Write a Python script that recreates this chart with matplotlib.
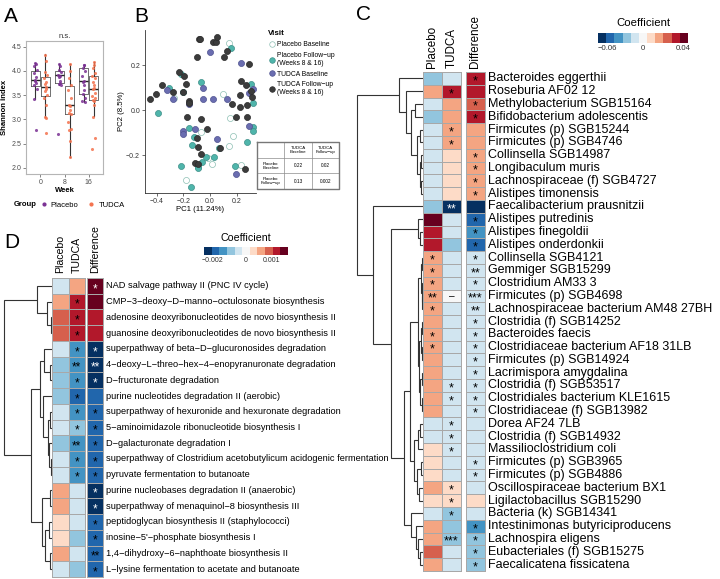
import numpy as np
import matplotlib
matplotlib.use('Agg')
import matplotlib.pyplot as plt
from matplotlib.colors import ListedColormap, BoundaryNorm
from matplotlib.lines import Line2D

plt.rcParams['font.family'] = ['Liberation Sans', 'DejaVu Sans']

# ---------------- panel A : Shannon index ----------------
weeks = ['0', '8', '16']
shannon_placebo = [
    [4.16, 4.15, 4.10, 4.02, 3.95, 3.88, 3.82, 3.80, 3.75, 3.70, 3.62, 3.42, 2.77],
    [4.15, 4.10, 4.02, 3.97, 3.92, 3.90, 3.88, 3.80, 3.75, 3.72, 3.71, 2.69],
    [4.13, 4.12, 4.05, 4.00, 3.90, 3.80, 3.78, 3.70, 3.60, 3.52, 3.45, 3.38, 3.36],
]
shannon_tudca = [
    [4.33, 4.20, 3.97, 3.92, 3.85, 3.78, 3.72, 3.67, 3.62, 3.58, 3.50, 3.45, 3.30, 3.05, 3.03, 2.72],
    [4.14, 4.00, 3.85, 3.70, 3.60, 3.45, 3.30, 3.28, 3.20, 3.12, 3.10, 2.95, 2.80, 2.78, 2.55, 2.22],
    [4.18, 4.12, 4.05, 3.95, 3.90, 3.85, 3.78, 3.70, 3.65, 3.62, 3.55, 3.48, 3.45, 3.40, 3.38, 3.30, 3.05, 2.61, 2.39],
]
# q1, median, q3, lower whisker, upper whisker
box_placebo = [(3.69, 3.81, 3.99, 3.42, 4.17), (3.74, 3.91, 4.00, 3.71, 4.15), (3.53, 3.79, 4.06, 3.36, 4.13)]
box_tudca = [(3.49, 3.67, 3.87, 3.04, 4.34), (3.10, 3.29, 3.69, 2.22, 4.15), (3.40, 3.62, 3.90, 3.06, 4.19)]

# ---------------- panel B : PCoA ----------------
pb_x = [0.14, 0.095, 0.15, -0.065, 0.17, 0.14, -0.015, 0.015, 0.23, -0.18, -0.27]
pb_y = [0.296, 0.071, -0.037, -0.096, -0.116, -0.159, -0.212, -0.241, -0.244, -0.311, 0.055]
pf_x = [0.16, -0.22, -0.305, -0.067, -0.2, 0.305, 0.32, -0.39, -0.16, 0.32, 0.325, -0.12,
        -0.138, -0.063, -0.03, 0.03, -0.09, -0.088, -0.22, 0.275, 0.19, -0.145, 0.07]
pf_y = [0.277, 0.16, 0.1, 0.124, 0.081, 0.114, 0.03, -0.012, -0.08, -0.077, -0.092, -0.119,
        -0.156, -0.233, -0.21, -0.21, -0.252, -0.259, -0.249, -0.141, -0.247, -0.341, -0.17]
tb_x = [0.0, 0.23, -0.055, -0.32, -0.28, -0.055, 0.02, 0.125, 0.29, 0.325, -0.155, -0.2, -0.2,
        -0.11, 0.05, 0.29, 0.195]
tb_y = [0.256, 0.207, 0.1, 0.089, 0.047, 0.05, 0.05, 0.047, 0.077, 0.092, 0.027, -0.092, -0.107,
        -0.086, -0.13, -0.071, -0.286]
tf_x = [-0.085, -0.075, 0.025, 0.045, 0.055, 0.125, -0.095, 0.105, 0.295, -0.23, -0.195, -0.36,
        -0.28, -0.405, -0.45, -0.205, -0.18, -0.16, -0.155, 0.23, 0.27, 0.225, 0.168, 0.225,
        0.275, 0.315, 0.31, -0.175, -0.07, -0.025, 0.195, 0.28, -0.095, 0.075, -0.088, -0.07,
        -0.113, -0.088, 0.26]
tf_y = [0.314, 0.314, 0.304, 0.304, 0.323, 0.264, 0.237, 0.234, 0.204, 0.17, 0.151, 0.111,
        0.081, 0.07, 0.049, 0.081, 0.116, 0.04, 0.033, 0.129, 0.111, 0.067, 0.025, 0.015,
        0.022, 0.059, 0.086, -0.033, -0.039, -0.086, -0.033, -0.033, -0.123, -0.17, -0.163,
        -0.196, -0.237, -0.241, -0.262]
visit_labels = ['Placebo Baseline', 'Placebo Follow\u2212up\n(Weeks 8 & 16)',
                'TUDCA Baseline', 'TUDCA Follow\u2212up\n(Weeks 8 & 16)']
tab_cols = ['TUDCA\nBaseline', 'TUDCA\nFollow\u2212up']
tab_rows = ['Placebo\nBaseline', 'Placebo\nFollow\u2212up']
tab_vals = [['0.22', '0.02'], ['0.13', '0.002']]

# ---------------- panel C : taxa ----------------
c_taxa = ['Bacteroides eggerthii', 'Roseburia AF02 12', 'Methylobacterium SGB15164',
          'Bifidobacterium adolescentis', 'Firmicutes (p) SGB15244', 'Firmicutes (p) SGB4746',
          'Collinsella SGB14987', 'Longibaculum muris', 'Lachnospiraceae (f) SGB4727',
          'Alistipes timonensis', 'Faecalibacterium prausnitzii', 'Alistipes putredinis',
          'Alistipes finegoldii', 'Alistipes onderdonkii', 'Collinsella SGB4121',
          'Gemmiger SGB15299', 'Clostridium AM33 3', 'Firmicutes (p) SGB4698',
          'Lachnospiraceae bacterium AM48 27BH', 'Clostridia (f) SGB14252', 'Bacteroides faecis',
          'Clostridiaceae bacterium AF18 31LB', 'Firmicutes (p) SGB14924', 'Lacrimispora amygdalina',
          'Clostridia (f) SGB53517', 'Clostridiales bacterium KLE1615', 'Clostridiaceae (f) SGB13982',
          'Dorea AF24 7LB', 'Clostridia (f) SGB14932', 'Massilioclostridium coli',
          'Firmicutes (p) SGB3965', 'Firmicutes (p) SGB4886', 'Oscillospiraceae bacterium BX1',
          'Ligilactobacillus SGB15290', 'Bacteria (k) SGB14341', 'Intestinimonas butyriciproducens',
          'Lachnospira eligens', 'Eubacteriales (f) SGB15275', 'Faecalicatena fissicatena']
c_placebo = [-0.028, 0.016, -0.014, -0.028, -0.014, -0.014, -0.014, -0.014, -0.014, -0.014,
             -0.028, 0.041, 0.032, 0.032] + [0.016] * 13 + \
            [-0.014, -0.014, 0.008, 0.008, 0.008, 0.016, 0.008, -0.014, 0.016, 0.016, 0.025, 0.016]
c_tudca = [-0.014, 0.032, 0.016, 0.016, 0.016, 0.016, 0.008, 0.008, 0.008, 0.008,
           -0.068, -0.014, -0.014, -0.028, -0.014, -0.014, -0.014, 0.0] + [-0.014] * 14 + \
          [0.008, 0.008, -0.028, -0.028, -0.028, -0.014, -0.014]
c_diff = [0.032, 0.032, 0.025, 0.032, 0.016, 0.016, 0.016, 0.016, 0.016, 0.016,
          -0.068, -0.055, -0.042, -0.055] + [-0.014] * 19 + \
         [0.008, -0.014, -0.042, -0.028, -0.028, -0.028]
c_sig_placebo = [''] * 14 + ['*', '*', '*', '**', '*', '', '*', '*'] + [''] * 17
c_sig_tudca = ['', '*', '', '', '*', '*', '', '', '', '', '**'] + [''] * 6 + ['\u2013'] + \
              [''] * 6 + ['*', '*', '', '*', '*', '*', '', '', '*', '*', '*', '', '***', '', '']
c_sig_diff = ['*', '', '*', '*', '', '', '*', '*', '*', '*', '', '*', '*', '*',
              '*', '**', '*', '***', '**', '*', '*', '*', '*', '*', '*', '*', '*',
              '', '', '', '*', '*', '', '', '', '*', '*', '*', '*']
# row dendrogram: [height, left, right]
c_tree = [66,
          [24, 0, [17, 1, [12, [8, 2, 3], [6, [3, 4, 5], [2.5, [1.5, 6, 7], [1.5, 8, 9]]]]]],
          [50, 10,
           [32, [5, 11, [2.5, 12, 13]],
            [19,
             [13,
              [5, [2, [1, 14, 15], [1, 16, [0.5, 17, 18]]],
               [4, [2, [1, 19, 20], [1, 21, 22]], [3, [1, 23, 24], [1, 25, 26]]]],
              [9, [5, [3, 27, 28], 29], [6, [2, 30, 31], [4, 32, 33]]]],
             [12, 34, [7, 35, [5, 36, [3, 37, 38]]]]]]]]

# ---------------- panel D : pathways ----------------
d_paths = ['NAD salvage pathway II (PNC IV cycle)',
           'CMP-3-deoxy-D-manno-octulosonate biosynthesis',
           'adenosine deoxyribonucleotides de novo biosynthesis II',
           'guanosine deoxyribonucleotides de novo biosynthesis II',
           'superpathway of beta-D-glucuronosides degradation',
           '4-deoxy-L-threo-hex-4-enopyranuronate degradation',
           'D-fructuronate degradation',
           'purine nucleotides degradation II (aerobic)',
           'superpathway of hexuronide and hexuronate degradation',
           '5-aminoimidazole ribonucleotide biosynthesis I',
           'D-galacturonate degradation I',
           'superpathway of Clostridium acetobutylicum acidogenic fermentation',
           'pyruvate fermentation to butanoate',
           'purine nucleobases degradation II (anaerobic)',
           'superpathway of menaquinol-8 biosynthesis III',
           'peptidoglycan biosynthesis II (staphylococci)',
           "inosine-5'-phosphate biosynthesis I",
           '1,4-dihydroxy-6-naphthoate biosynthesis II',
           'L-lysine fermentation to acetate and butanoate']
d_placebo = [-0.0005, 0.0006, 0.0009, 0.0009, -0.0005, -0.0009, -0.0009, -0.0009, -0.0005, -0.0005,
             -0.0009, -0.0005, -0.0005, 0.0006, 0.0006, 0.0003, 0.0003, 0.0006, -0.0005]
d_tudca = [0.0006, 0.0012, 0.0012, 0.0012, -0.0014, -0.0014, -0.0014, -0.0019, -0.0014, -0.0009,
           -0.0014, -0.0014, -0.0014, -0.0005, -0.0005, -0.0005, -0.0009, -0.0005, -0.0009]
d_diff = [0.0015, 0.0015, 0.0012, 0.0012, -0.0023, -0.0023, -0.0023, -0.0019, -0.0019, -0.0019,
          -0.0019, -0.0019, -0.0019, -0.0023, -0.0023, -0.0019, -0.0019, -0.0019, -0.0019]
d_sig_placebo = [''] * 19
d_sig_tudca = ['', '*', '*', '*', '*', '**', '*', '*', '*', '*', '**', '*', '*'] + [''] * 6
d_sig_diff = ['*', '', '', '', '*', '**', '*', '', '*', '*', '*', '*', '*',
              '*', '*', '*', '*', '**', '*']
d_tree = [48.5,
          [15, 0, [5.5, 1, [1.5, 2, 3]]],
          [21,
           [12, [8, 4, [2, 5, 6]], [9, 7, [4, [2, 8, 9], [3, 10, [1.5, 11, 12]]]]],
           [10, [2, 13, 14], [7, [3, 15, 16], [2, 17, 18]]]]]

coef_colors = ['#053061', '#2166ac', '#4393c3', '#92c5de', '#d1e5f0', '#f7f7f7',
               '#fddbc7', '#f4a582', '#d6604d', '#b2182b', '#67001f']
coef_cmap = ListedColormap(coef_colors)

W, H = 720, 579
fig = plt.figure(figsize=(7.2, 5.79), dpi=100)


def px(x0, y0, x1, y1):
    return [x0 / W, 1 - y1 / H, (x1 - x0) / W, (y1 - y0) / H]


def bounds(z, sneg, spos):
    k = np.arange(12)
    return np.where(k < z, (k - z) * sneg, (k - z) * spos)


def draw_tree(ax, node):
    if isinstance(node, int):
        return node + 0.5, 0.0
    h, left, right = node
    y1, h1 = draw_tree(ax, left)
    y2, h2 = draw_tree(ax, right)
    ax.plot([h1, h, h, h2], [y1, y1, y2, y2], color='#333333', lw=0.8,
            solid_capstyle='butt', solid_joinstyle='miter')
    return (y1 + y2) / 2, h


def heatmap(rect, cols, sigs, names, gap, norm, headers, head_fs, row_fs, star_fs, star_dy):
    ax = fig.add_axes(rect)
    n = len(names)
    rows = np.arange(n + 1)
    m1 = ax.pcolormesh([0, 1, 2], rows, np.column_stack(cols[:2]), cmap=coef_cmap, norm=norm,
                       edgecolors='#a8a8a8', linewidth=0.7)
    m2 = ax.pcolormesh([2 + gap, 3 + gap], rows, np.asarray(cols[2])[:, None], cmap=coef_cmap,
                       norm=norm, edgecolors='#a8a8a8', linewidth=0.7)
    m1.set_clip_on(False)
    m2.set_clip_on(False)
    xc = [0.5, 1.5, 2.5 + gap]
    for j in range(3):
        for i in range(n):
            s = sigs[j][i]
            if not s:
                continue
            idx = int(norm(cols[j][i]))
            c = 'white' if idx in (0, 10) else 'black'
            if s == '\u2013':
                ax.text(xc[j], i + 0.5, s, ha='center', va='center', fontsize=star_fs * 0.8, color=c)
            else:
                ax.text(xc[j], i + 0.5 + star_dy, s, ha='center', va='center', fontsize=star_fs,
                        color=c)
        ax.text(xc[j], -0.3, headers[j], rotation=90, ha='center', va='bottom', fontsize=head_fs)
    for i, nm in enumerate(names):
        ax.text(3 + gap + 0.17, i + 0.5, nm, ha='left', va='center', fontsize=row_fs)
    ax.set_xlim(0, 3 + gap)
    ax.set_ylim(n, 0)
    ax.axis('off')


def colorbar(rect, z, sneg, spos, ticks, ticklabels, title_fs, tick_fs):
    ax = fig.add_axes(rect)
    ax.imshow(np.arange(11)[None, :], cmap=coef_cmap, aspect='auto', extent=(0, 11, 0, 1))
    for t, lab in zip(ticks, ticklabels):
        p = z + t / (sneg if t < 0 else spos)
        ax.text(p, -0.25, lab, ha='center', va='top', fontsize=tick_fs, color='#333333')
    ax.text(5.5, 1.45, 'Coefficient', ha='center', va='bottom', fontsize=title_fs)
    ax.set_xlim(0, 11)
    ax.set_ylim(0, 1)
    ax.axis('off')


# ================= A =================
axA = fig.add_axes(px(26, 40.6, 103, 173.8))
col_p, col_t = '#7b3294', '#f4734f'
off, bw = 0.21, 0.36
for k in range(3):
    for pts, box, d, col in ((shannon_placebo[k], box_placebo[k], -off, col_p),
                             (shannon_tudca[k], box_tudca[k], off, col_t)):
        q1, med, q3, lo, hi = box
        st = [dict(med=med, q1=q1, q3=q3, whislo=lo, whishi=hi, fliers=[])]
        axA.bxp(st, positions=[k + 1 + d], widths=bw, showcaps=False, showfliers=False,
                boxprops=dict(color='#5a5a5a', lw=0.6),
                medianprops=dict(color='#222222', lw=1.0),
                whiskerprops=dict(color='#333333', lw=0.8))
        n = len(pts)
        jit = 0.05 * np.sin(np.arange(n) * 2.7)
        axA.scatter(k + 1 + d + jit, pts, s=5, color=col, alpha=0.85, lw=0, zorder=3)
axA.set_xlim(0.4, 3.6)
axA.set_ylim(1.875, 4.625)
axA.set_xticks([1, 2, 3])
axA.set_xticklabels(weeks)
axA.set_yticks([2.0, 2.5, 3.0, 3.5, 4.0, 4.5])
axA.set_yticklabels(['2.0', '2.5', '3.0', '3.5', '4.0', '4.5'])
axA.tick_params(labelsize=5, colors='#555555', labelcolor='#4d4d4d', length=2, width=0.5, pad=1.5)
for sp in axA.spines.values():
    sp.set_color('#b5b5b5')
    sp.set_linewidth(0.8)
axA.set_title('n.s.', fontsize=5.5, pad=2, color='#333333')
axA.set_ylabel('Shannon index', fontsize=5.5, fontweight='bold', labelpad=2)
axA.set_xlabel('Week', fontsize=5.5, fontweight='bold', labelpad=1)

fig.text(14 / W, 1 - 205 / H, 'Group', fontsize=5.5, fontweight='bold', va='center')
hA = [Line2D([], [], ls='', marker='o', ms=2, color=col_p),
      Line2D([], [], ls='', marker='o', ms=2, color=col_t)]
fig.legend(hA, ['Placebo', 'TUDCA'], loc='center left', bbox_to_anchor=(40 / W, 1 - 205 / H),
           ncol=2, frameon=False, fontsize=5.5, handletextpad=0.4, columnspacing=1.2,
           handlelength=1.0, borderpad=0, borderaxespad=0)

# ================= B =================
axB = fig.add_axes(px(145, 30, 256, 193))
visit_style = [
    dict(x=pb_x, y=pb_y, fc='white', ec='#8cbfb3'),
    dict(x=pf_x, y=pf_y, fc='#4fb5ab', ec='#3d8f88'),
    dict(x=tb_x, y=tb_y, fc='#6a6db0', ec='#4f5290'),
    dict(x=tf_x, y=tf_y, fc='#3c3c3c', ec='#2a2a2a'),
]
for v in visit_style:
    axB.scatter(v['x'], v['y'], s=19, facecolor=v['fc'], edgecolor=v['ec'], lw=0.5, zorder=3)
axB.set_xlim(-0.4875, 0.345)
axB.set_ylim(-0.369, 0.356)
axB.set_xticks([-0.4, -0.2, 0.0, 0.2])
axB.set_xticklabels(['\u22120.4', '\u22120.2', '0.0', '0.2'])
axB.set_yticks([-0.2, 0.0, 0.2])
axB.set_yticklabels(['\u22120.2', '0.0', '0.2'])
axB.spines['top'].set_visible(False)
axB.spines['right'].set_visible(False)
for sp in ('left', 'bottom'):
    axB.spines[sp].set_linewidth(0.6)
    axB.spines[sp].set_color('#333333')
axB.tick_params(labelsize=5, colors='#333333', length=2, width=0.5, pad=1.5)
axB.set_xlabel('PC1 (11.24%)', fontsize=5.6, labelpad=1)
axB.set_ylabel('PC2 (8.5%)', fontsize=5.6, labelpad=1)

hB = [Line2D([], [], ls='', marker='o', ms=4, mfc=v['fc'], mec=v['ec'], mew=0.5) for v in visit_style]
fig.legend(hB, visit_labels, loc='upper left', bbox_to_anchor=(265 / W, 1 - 27 / H),
           frameon=False, fontsize=4.9, title='Visit', alignment='left',
           title_fontproperties=dict(weight='bold', size=5.7), handletextpad=0.3,
           labelspacing=0.55, handlelength=1.0, borderpad=0)

axT = fig.add_axes(px(257, 142, 339, 189))
axT.set_xlim(0, 3)
axT.set_ylim(3, 0)
axT.axis('off')
for i in range(1, 3):
    axT.plot([0, 3], [i, i], color='#8c8c8c', lw=0.5)
    axT.plot([i, i], [0, 3], color='#8c8c8c', lw=0.5)
axT.plot([0, 3, 3, 0, 0], [0, 0, 3, 3, 0], color='#777777', lw=1.0, clip_on=False)
for j, c in enumerate(tab_cols):
    axT.text(j + 1.5, 0.5, c, ha='center', va='center', fontsize=3.2, linespacing=1.0)
for i, r in enumerate(tab_rows):
    axT.text(0.5, i + 1.5, r, ha='center', va='center', fontsize=3.2, linespacing=1.0)
    for j in range(2):
        axT.text(j + 1.5, i + 1.5, tab_vals[i][j], ha='center', va='center', fontsize=3.4)

# ================= C =================
zc, sneg_c, spos_c = 5.5, 0.01395, 0.00816
norm_c = BoundaryNorm(bounds(zc, sneg_c, spos_c), 11)
axCd = fig.add_axes(px(350, 72, 422.7, 571))
draw_tree(axCd, c_tree)
axCd.set_xlim(72.7, 0)
axCd.set_ylim(len(c_taxa), 0)
axCd.axis('off')
heatmap(px(422.7, 72, 485, 571), [c_placebo, c_tudca, c_diff],
        [c_sig_placebo, c_sig_tudca, c_sig_diff], c_taxa, 0.26, norm_c,
        ['Placebo', 'TUDCA', 'Difference'], 8.4, 9, 9, 0.22)
colorbar(px(598, 33, 688, 43), zc, sneg_c, spos_c, [-0.06, 0, 0.04],
         ['\u22120.06', '0', '0.04'], 8.2, 5.6)

# ================= D =================
zd, sneg_d, spos_d = 5.5, 0.000463, 0.000303
norm_d = BoundaryNorm(bounds(zd, sneg_d, spos_d), 11)
axDd = fig.add_axes(px(0, 278, 52.3, 577))
draw_tree(axDd, d_tree)
axDd.set_xlim(52.3, 0)
axDd.set_ylim(len(d_paths), 0)
axDd.axis('off')
heatmap(px(52.3, 278, 103.3, 577), [d_placebo, d_tudca, d_diff],
        [d_sig_placebo, d_sig_tudca, d_sig_diff],
        [p.replace('-', '\u2212') for p in d_paths], 0.14, norm_d,
        ['Placebo', 'TUDCA', 'Difference'], 7.6, 6.7, 8.5, 0.2)
colorbar(px(204, 247, 288, 255), zd, sneg_d, spos_d, [-0.002, 0, 0.001],
         ['\u22120.002', '0', '0.001'], 7.7, 5.0)

# panel letters
for lab, x, y in (('A', 4, 22), ('B', 134, 22), ('C', 356, 20), ('D', 4, 248)):
    fig.text(x / W, 1 - y / H, lab, fontsize=15, va='baseline', ha='left')

fig.savefig('out.png', dpi=100)
